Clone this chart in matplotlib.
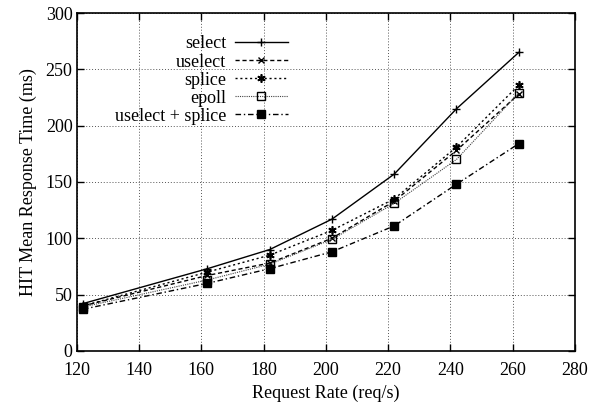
import matplotlib
matplotlib.use("Agg")
import matplotlib.pyplot as plt

plt.rcParams['font.family'] = ['Liberation Serif', 'DejaVu Serif']

# request rates (req/s)
rate = [122, 162, 182, 202, 222, 242, 262]

# mean response times (ms)
t_select = [42, 73, 90, 117, 157, 215, 265]
t_uselect = [40, 67, 78, 100, 133, 178, 228]
t_splice = [40, 70, 85, 107, 135, 181, 236]
t_epoll = [39, 63, 77, 99, 131, 170, 229]
t_usplice = [37, 60, 73, 88, 111, 148, 184]

fig = plt.figure(figsize=(5.95, 4.08), dpi=100)
ax = fig.add_axes([0.129, 0.140, 0.837, 0.828])

ax.plot(rate, t_select, color='k', ls='-', lw=1.0, marker='+', ms=6, mew=1.0, label='select')
ax.plot(rate, t_uselect, color='k', ls=(0, (3, 2)), lw=1.0, marker='x', ms=5, mew=1.0, label='uselect')
ax.plot(rate, t_splice, color='k', ls=(0, (1.5, 2)), lw=1.0, marker=(6, 2, 0), ms=6, mew=1.2, label='splice')
ax.plot(rate, t_epoll, color='#444444', ls=(0, (1, 1)), lw=0.8, marker='s', ms=6, mfc='none', mec='k', mew=1.0, label='epoll')
ax.plot(rate, t_usplice, color='k', ls=(0, (4, 2, 1, 2)), lw=1.0, marker='s', ms=6, mfc='k', mec='k', label='uselect + splice')

ax.set_xlim(120, 280)
ax.set_ylim(0, 300)
ax.set_xticks(range(120, 281, 20))
ax.set_yticks(range(0, 301, 50))
ax.grid(True, color='#555555', ls=(0, (1, 2)), lw=0.7)
ax.tick_params(direction='in', top=True, right=True, labelsize=13, length=5, width=1)
ax.tick_params(axis='x', pad=8)
ax.tick_params(axis='y', pad=3)
for s in ax.spines.values():
    s.set_linewidth(1.2)

ax.set_xlabel('Request Rate (req/s)', fontsize=13, labelpad=4)
ax.set_ylabel('HIT Mean Response Time (ms)', fontsize=13, labelpad=6)

leg = ax.legend(loc='upper left', bbox_to_anchor=(0.062, 0.955), markerfirst=False, frameon=False,
                fontsize=13, handlelength=2.9, labelspacing=0.06, handletextpad=0.5, borderaxespad=0)

fig.savefig('out.png', dpi=100)
